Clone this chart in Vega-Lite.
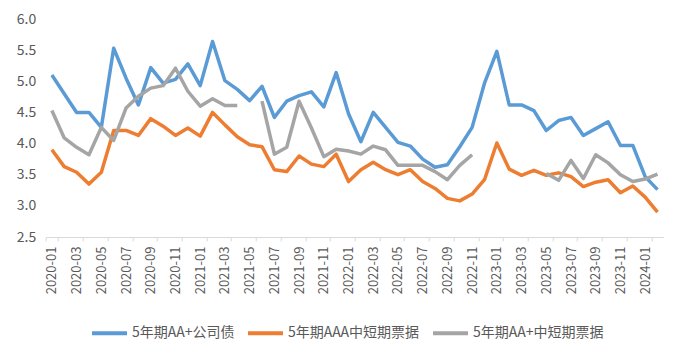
{
  "$schema": "https://vega.github.io/schema/vega-lite/v6.json",
  "width": 618,
  "height": 218,
  "autosize": {"type": "none"},
  "padding": {"left": 45.7, "top": 19, "right": 19.3, "bottom": 120},
  "background": "white",
  "data": {"values": [
    {"month": "2020-01", "5年期AA+公司债": 5.10, "5年期AAA中短期票据": 3.90, "5年期AA+中短期票据": 4.53},
    {"month": "2020-02", "5年期AA+公司债": 4.80, "5年期AAA中短期票据": 3.63, "5年期AA+中短期票据": 4.09},
    {"month": "2020-03", "5年期AA+公司债": 4.50, "5年期AAA中短期票据": 3.54, "5年期AA+中短期票据": 3.94},
    {"month": "2020-04", "5年期AA+公司债": 4.50, "5年期AAA中短期票据": 3.35, "5年期AA+中短期票据": 3.82},
    {"month": "2020-05", "5年期AA+公司债": 4.26, "5年期AAA中短期票据": 3.54, "5年期AA+中短期票据": 4.26},
    {"month": "2020-06", "5年期AA+公司债": 5.53, "5年期AAA中短期票据": 4.21, "5年期AA+中短期票据": 4.05},
    {"month": "2020-07", "5年期AA+公司债": 5.05, "5年期AAA中短期票据": 4.21, "5年期AA+中短期票据": 4.57},
    {"month": "2020-08", "5年期AA+公司债": 4.62, "5年期AAA中短期票据": 4.13, "5年期AA+中短期票据": 4.76},
    {"month": "2020-09", "5年期AA+公司债": 5.22, "5年期AAA中短期票据": 4.40, "5年期AA+中短期票据": 4.89},
    {"month": "2020-10", "5年期AA+公司债": 4.97, "5年期AAA中短期票据": 4.28, "5年期AA+中短期票据": 4.93},
    {"month": "2020-11", "5年期AA+公司债": 5.03, "5年期AAA中短期票据": 4.13, "5年期AA+中短期票据": 5.21},
    {"month": "2020-12", "5年期AA+公司债": 5.28, "5年期AAA中短期票据": 4.25, "5年期AA+中短期票据": 4.84},
    {"month": "2021-01", "5年期AA+公司债": 4.93, "5年期AAA中短期票据": 4.12, "5年期AA+中短期票据": 4.60},
    {"month": "2021-02", "5年期AA+公司债": 5.64, "5年期AAA中短期票据": 4.50, "5年期AA+中短期票据": 4.72},
    {"month": "2021-03", "5年期AA+公司债": 5.01, "5年期AAA中短期票据": 4.30, "5年期AA+中短期票据": 4.61},
    {"month": "2021-04", "5年期AA+公司债": 4.87, "5年期AAA中短期票据": 4.11, "5年期AA+中短期票据": 4.61},
    {"month": "2021-05", "5年期AA+公司债": 4.69, "5年期AAA中短期票据": 3.98, "5年期AA+中短期票据": null},
    {"month": "2021-06", "5年期AA+公司债": 4.92, "5年期AAA中短期票据": 3.95, "5年期AA+中短期票据": 4.68},
    {"month": "2021-07", "5年期AA+公司债": 4.42, "5年期AAA中短期票据": 3.58, "5年期AA+中短期票据": 3.83},
    {"month": "2021-08", "5年期AA+公司债": 4.68, "5年期AAA中短期票据": 3.55, "5年期AA+中短期票据": 3.94},
    {"month": "2021-09", "5年期AA+公司债": 4.77, "5年期AAA中短期票据": 3.80, "5年期AA+中短期票据": 4.68},
    {"month": "2021-10", "5年期AA+公司债": 4.83, "5年期AAA中短期票据": 3.67, "5年期AA+中短期票据": 4.25},
    {"month": "2021-11", "5年期AA+公司债": 4.59, "5年期AAA中短期票据": 3.63, "5年期AA+中短期票据": 3.79},
    {"month": "2021-12", "5年期AA+公司债": 5.14, "5年期AAA中短期票据": 3.83, "5年期AA+中短期票据": 3.91},
    {"month": "2022-01", "5年期AA+公司债": 4.48, "5年期AAA中短期票据": 3.39, "5年期AA+中短期票据": 3.88},
    {"month": "2022-02", "5年期AA+公司债": 4.03, "5年期AAA中短期票据": 3.58, "5年期AA+中短期票据": 3.83},
    {"month": "2022-03", "5年期AA+公司债": 4.50, "5年期AAA中短期票据": 3.70, "5年期AA+中短期票据": 3.96},
    {"month": "2022-04", "5年期AA+公司债": 4.26, "5年期AAA中短期票据": 3.58, "5年期AA+中短期票据": 3.90},
    {"month": "2022-05", "5年期AA+公司债": 4.02, "5年期AAA中短期票据": 3.50, "5年期AA+中短期票据": 3.65},
    {"month": "2022-06", "5年期AA+公司债": 3.96, "5年期AAA中短期票据": 3.58, "5年期AA+中短期票据": 3.65},
    {"month": "2022-07", "5年期AA+公司债": 3.75, "5年期AAA中短期票据": 3.39, "5年期AA+中短期票据": 3.65},
    {"month": "2022-08", "5年期AA+公司债": 3.62, "5年期AAA中短期票据": 3.28, "5年期AA+中短期票据": 3.55},
    {"month": "2022-09", "5年期AA+公司债": 3.66, "5年期AAA中短期票据": 3.12, "5年期AA+中短期票据": 3.42},
    {"month": "2022-10", "5年期AA+公司债": 3.95, "5年期AAA中短期票据": 3.08, "5年期AA+中短期票据": 3.65},
    {"month": "2022-11", "5年期AA+公司债": 4.26, "5年期AAA中短期票据": 3.19, "5年期AA+中短期票据": 3.82},
    {"month": "2022-12", "5年期AA+公司债": 4.97, "5年期AAA中短期票据": 3.42, "5年期AA+中短期票据": null},
    {"month": "2023-01", "5年期AA+公司债": 5.48, "5年期AAA中短期票据": 4.01, "5年期AA+中短期票据": null},
    {"month": "2023-02", "5年期AA+公司债": 4.62, "5年期AAA中短期票据": 3.59, "5年期AA+中短期票据": null},
    {"month": "2023-03", "5年期AA+公司债": 4.62, "5年期AAA中短期票据": 3.49, "5年期AA+中短期票据": null},
    {"month": "2023-04", "5年期AA+公司债": 4.53, "5年期AAA中短期票据": 3.57, "5年期AA+中短期票据": null},
    {"month": "2023-05", "5年期AA+公司债": 4.21, "5年期AAA中短期票据": 3.49, "5年期AA+中短期票据": 3.52},
    {"month": "2023-06", "5年期AA+公司债": 4.37, "5年期AAA中短期票据": 3.53, "5年期AA+中短期票据": 3.41},
    {"month": "2023-07", "5年期AA+公司债": 4.42, "5年期AAA中短期票据": 3.47, "5年期AA+中短期票据": 3.73},
    {"month": "2023-08", "5年期AA+公司债": 4.13, "5年期AAA中短期票据": 3.31, "5年期AA+中短期票据": 3.44},
    {"month": "2023-09", "5年期AA+公司债": 4.24, "5年期AAA中短期票据": 3.38, "5年期AA+中短期票据": 3.82},
    {"month": "2023-10", "5年期AA+公司债": 4.35, "5年期AAA中短期票据": 3.42, "5年期AA+中短期票据": 3.69},
    {"month": "2023-11", "5年期AA+公司债": 3.97, "5年期AAA中短期票据": 3.21, "5年期AA+中短期票据": 3.50},
    {"month": "2023-12", "5年期AA+公司债": 3.97, "5年期AAA中短期票据": 3.32, "5年期AA+中短期票据": 3.39},
    {"month": "2024-01", "5年期AA+公司债": 3.47, "5年期AAA中短期票据": 3.14, "5年期AA+中短期票据": 3.43},
    {"month": "2024-02", "5年期AA+公司债": 3.26, "5年期AAA中短期票据": 2.90, "5年期AA+中短期票据": 3.51}
  ]},
  "transform": [
    {"fold": ["5年期AA+公司债", "5年期AAA中短期票据", "5年期AA+中短期票据"], "as": ["series", "value"]}
  ],
  "mark": {"type": "line", "strokeWidth": 3.5, "strokeJoin": "round", "strokeCap": "butt"},
  "encoding": {
    "x": {
      "field": "month", "type": "ordinal", "sort": null, "bandPosition": 0.5,
      "scale": {"type": "band", "paddingInner": 0, "paddingOuter": 0},
      "axis": {
        "title": null,
        "values": ["2020-01","2020-03","2020-05","2020-07","2020-09","2020-11","2021-01","2021-03","2021-05","2021-07","2021-09","2021-11","2022-01","2022-03","2022-05","2022-07","2022-09","2022-11","2023-01","2023-03","2023-05","2023-07","2023-09","2023-11","2024-01"],
        "labelAngle": -90, "tickBand": "extent", "grid": false,
        "domainColor": "#d9d9d9", "tickColor": "#d9d9d9", "tickSize": 4,
        "labelPadding": 5, "labelFont": "Noto Sans CJK SC", "labelFontSize": 13, "labelColor": "#595959"
      }
    },
    "y": {
      "field": "value", "type": "quantitative",
      "scale": {"domain": [2.5, 6], "nice": false, "zero": false},
      "axis": {
        "title": null, "values": [2.5, 3, 3.5, 4, 4.5, 5, 5.5, 6], "format": ".1f",
        "domain": false, "ticks": false, "tickSize": 0, "grid": false,
        "labelPadding": 10, "labelFont": "Noto Sans CJK SC", "labelFontSize": 14, "labelColor": "#595959"
      }
    },
    "color": {
      "field": "series", "type": "nominal",
      "scale": {"domain": ["5年期AA+公司债", "5年期AAA中短期票据", "5年期AA+中短期票据"], "range": ["#5b9bd5", "#ed7d31", "#a5a5a5"]},
      "legend": {
        "title": null, "orient": "none", "legendX": 44.3, "legendY": 294.5, "direction": "horizontal",
        "symbolType": "stroke", "symbolSize": 1225, "symbolStrokeWidth": 4,
        "labelFont": "Noto Sans CJK SC", "labelFontSize": 14, "labelColor": "#595959",
        "labelOffset": 3, "columnPadding": 5, "padding": 0
      }
    }
  },
  "config": {"view": {"stroke": null}}
}
